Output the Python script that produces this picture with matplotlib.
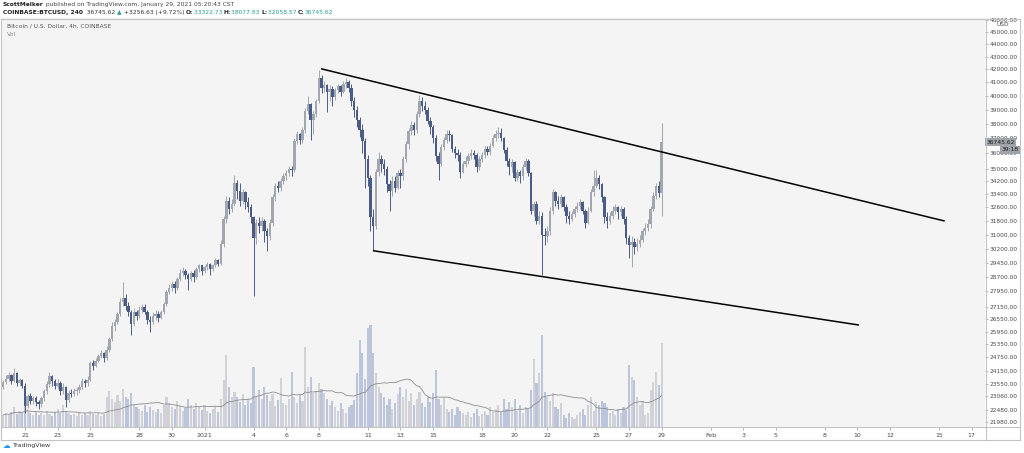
import matplotlib
matplotlib.use('Agg')
import matplotlib.pyplot as plt
from matplotlib.lines import Line2D
from matplotlib.ticker import FixedLocator, FixedFormatter, NullLocator
import numpy as np
import pandas as pd

# COINBASE:BTCUSD 4h candles, first bar opens 2020-12-19 16:00
first_open = 23450
closes = [
    23650, 23800,                                   # Dec 19
    23950, 23700, 24050, 23600, 23750, 23500,       # Dec 20
    22650, 23050, 22850, 22950, 22800, 22700,       # Dec 21
    22950, 23250, 23550, 23900, 23700, 23500,       # Dec 22
    23600, 23250, 23450, 22900, 23200, 23150,       # Dec 23
    23250, 23300, 23450, 23700, 23600, 23750,       # Dec 24
    24500, 24350, 24600, 24800, 24950, 24700,       # Dec 25
    25100, 25600, 26200, 26400, 26800, 27400,       # Dec 26
    27600, 27200, 26900, 26300, 26900, 26700,       # Dec 27
    27000, 27150, 26900, 26500, 26400, 26700,       # Dec 28
    26800, 26600, 26900, 27300, 27900, 28100,       # Dec 29
    28300, 28100, 28600, 28900, 29000, 28800,       # Dec 30
    28600, 28900, 28700, 29100, 29300, 29000,       # Dec 31
    29200, 29400, 29100, 29300, 29600, 29400,       # Jan 1
    30500, 31900, 33000, 32500, 32800, 34100,       # Jan 2
    33600, 33000, 33500, 32900, 32600, 32000,       # Jan 3
    30800, 31700, 31500, 31800, 31200, 30900,       # Jan 4
    31700, 33200, 33900, 33800, 34200, 34500,       # Jan 5
    34700, 35000, 34900, 36800, 37300, 36900,       # Jan 6
    37600, 38900, 39400, 38300, 38700, 39600,       # Jan 7
    41300, 40600, 40800, 40300, 40500, 39900,       # Jan 8
    40400, 40700, 40300, 40900, 41000, 40600,       # Jan 9
    39600, 39000, 38300, 37600, 36800, 35600,       # Jan 10
    34400, 32000, 31500, 34800, 35600, 35300,       # Jan 11
    35000, 34000, 33600, 34200, 33800, 34700,       # Jan 12
    34500, 35600, 36600, 37500, 37900, 37600,       # Jan 13
    38700, 39600, 39300, 39000, 38200, 37800,       # Jan 14
    37000, 35800, 35300, 36400, 36900, 37300,       # Jan 15
    37200, 36300, 36000, 35900, 34800, 35300,       # Jan 16
    35500, 35800, 36000, 35900, 35100, 35600,       # Jan 17
    35900, 36300, 36100, 36500, 37000, 37300,       # Jan 18
    37400, 37000, 36200, 35500, 35100, 35400,       # Jan 19
    34400, 34800, 34500, 35100, 35500, 34700,       # Jan 20
    32400, 32800, 31800, 32100, 31000, 30900,       # Jan 21
    31200, 32400, 33500, 33000, 32800, 33200,       # Jan 22
    32600, 32100, 31900, 32200, 32500, 32700,       # Jan 23
    32900, 32400, 31700, 32400, 33500, 33900,       # Jan 24
    34400, 34000, 33200, 32000, 31800, 32100,       # Jan 25
    32400, 32600, 32300, 32500, 31900, 30800,       # Jan 26
    30400, 30600, 30300, 30500, 30700, 31200,       # Jan 27
    31400, 31600, 32500, 33300, 33900, 33489,       # Jan 28
    36745.62,                                       # Jan 29
]
highs = [
    23750, 23950,
    24100, 24000, 24250, 24100, 23850, 23800,
    23600, 23150, 23200, 23050, 23050, 22900,
    23050, 23350, 23700, 24100, 23950, 23800,
    23800, 23700, 23600, 23500, 23300, 23350,
    23400, 23450, 23550, 23850, 23800, 23900,
    24600, 24650, 24700, 24900, 25100, 25000,
    25250, 25700, 26400, 26550, 26900, 27600,
    28400, 27800, 27400, 27000, 27100, 27000,
    27200, 27300, 27300, 27000, 26700, 26900,
    27000, 26950, 27000, 27400, 28000, 28300,
    28500, 28450, 28700, 29100, 29200, 29100,
    28900, 29000, 29050, 29200, 29400, 29350,
    29350, 29500, 29450, 29400, 29700, 29650,
    30700, 32100, 33300, 33200, 33100, 34600,
    34300, 34100, 33700, 33600, 33200, 32800,
    32100, 31900, 32000, 32000, 31900, 31400,
    31900, 33400, 34100, 34200, 34400, 34700,
    34900, 35200, 35200, 37000, 37500, 37400,
    37800, 39100, 40000, 39500, 38900, 39800,
    41950, 41600, 41100, 40900, 40800, 40700,
    40600, 40900, 40800, 41100, 41300, 41200,
    40900, 39900, 39300, 38500, 38000, 37000,
    35900, 34600, 32500, 35000, 36100, 35900,
    35600, 35200, 34300, 34500, 34500, 34900,
    35000, 35800, 36800, 37700, 38200, 38100,
    38900, 40100, 39900, 39600, 39200, 38500,
    37900, 37200, 36100, 36600, 37100, 37600,
    37600, 37300, 36500, 36300, 36100, 35500,
    35800, 36000, 36300, 36200, 36000, 35800,
    36100, 36500, 36500, 36700, 37200, 37600,
    37800, 37700, 37100, 36400, 35700, 35600,
    35500, 35000, 34900, 35300, 35700, 35600,
    34800, 33000, 33000, 32400, 32300, 31400,
    31500, 32600, 33700, 33600, 33300, 33400,
    33300, 32800, 32400, 32400, 32700, 32900,
    33100, 33000, 32500, 32600, 33700, 34900,
    34900, 34600, 34100, 33300, 32300, 32300,
    32700, 32800, 32700, 32700, 32600, 32100,
    31000, 30900, 30800, 30800, 31000, 31400,
    31700, 31900, 32700, 33500, 34100, 34200,
    38077.83,
]
lows = [
    23350, 23550,
    23700, 23550, 23650, 23500, 23500, 23400,
    22350, 22550, 22700, 22700, 22650, 22500,
    22600, 22850, 23150, 23450, 23500, 23350,
    23350, 23100, 23150, 22600, 22800, 23000,
    23050, 23100, 23200, 23350, 23450, 23500,
    23700, 24200, 24300, 24550, 24700, 24550,
    24650, 25000, 25500, 26000, 26300, 26700,
    27200, 27000, 26700, 25800, 26200, 26500,
    26600, 26850, 26800, 26300, 25950, 26300,
    26500, 26400, 26550, 26800, 27200, 27800,
    27950, 27850, 28000, 28500, 28750, 28600,
    28000, 28500, 28400, 28600, 28950, 28800,
    28900, 29050, 28800, 29000, 29200, 29250,
    29300, 30300, 31700, 32200, 32300, 32700,
    33100, 32700, 32800, 32500, 32300, 31700,
    27700, 30500, 31100, 31200, 30600, 30100,
    30700, 31500, 33000, 33500, 33600, 34000,
    34300, 34500, 34500, 34800, 36600, 36600,
    36700, 37400, 38700, 36900, 37300, 38500,
    39500, 40200, 40300, 38800, 39600, 39300,
    39700, 40200, 40000, 40200, 40600, 40300,
    39300, 38500, 37800, 37100, 36000, 33800,
    33900, 31200, 30150, 31300, 34500, 34800,
    34600, 33500, 32400, 33300, 33500, 33700,
    33800, 34300, 35400, 36300, 37200, 37200,
    37400, 38500, 38900, 38700, 38000, 37300,
    36700, 35500, 34300, 35200, 36200, 36700,
    36800, 36100, 35700, 35500, 34400, 34700,
    35100, 35300, 35600, 35600, 34800, 34900,
    35400, 35700, 35900, 35900, 36400, 36800,
    37000, 36800, 36000, 35200, 34600, 34800,
    34200, 34200, 34100, 34300, 34900, 34500,
    32200, 32100, 31600, 31600, 28800, 30400,
    30600, 31000, 32200, 32700, 32500, 32600,
    32400, 31700, 31600, 31800, 32000, 32300,
    32500, 32200, 31400, 31600, 32300, 33300,
    33800, 33700, 32900, 31700, 31400, 31600,
    31900, 32200, 31900, 32100, 31600, 30500,
    29700, 29200, 29900, 30100, 30300, 30600,
    31000, 31200, 31400, 32400, 33100, 33200,
    32058.57,
]
volumes = [
    1200, 1400,
    1200, 1500, 2000, 1300, 1600, 1400,
    2600, 1800, 1400, 1200, 1500, 1200,
    1400, 1200, 1600, 1300, 1100, 1500,
    1800, 1400, 2200, 1600, 1400, 1200,
    1300, 1100, 1500, 1200, 1400, 1200,
    1600, 1300, 1200, 1400, 1100, 1300,
    3000, 3600, 2800, 2500, 3200, 2600,
    3800, 3000, 2800, 3400, 2200, 2000,
    1800, 1600, 2200, 1500, 2000, 1700,
    1500, 1800, 1400, 2200, 3000, 2400,
    2000, 1800, 2600, 2100, 1600, 1900,
    2800, 2200, 1800, 2400, 2000, 1700,
    2200, 1600, 1400, 1800, 2100, 1500,
    2800, 4700, 7200, 4000, 3000, 3500,
    3000, 2500, 3300, 2200, 2800, 2400,
    6000, 3000, 3700, 2800, 4000, 3200,
    2600, 3300, 2100, 2700, 4900, 2400,
    2200, 2800, 5500, 3000, 2400, 3200,
    2600, 8000, 4000, 5000, 3400, 3600,
    4400, 3800, 3400, 2800, 2200, 2600,
    2000, 1600, 2400, 1800, 1400, 2000,
    2200, 2700, 5400, 8700, 7400, 4800,
    9900, 10200, 7400, 5400, 4000, 3400,
    3000, 2200, 2800, 1800, 2400, 3300,
    4000, 3000, 3800, 2600, 3400, 2200,
    2800, 3500, 2400, 2000, 3000, 2500,
    3400, 5700, 2800, 2200, 3000, 1800,
    1500, 1800, 1200, 2000, 1600, 1400,
    1200, 1500, 1000, 1400, 1800, 1100,
    1300, 1600, 1200, 2000, 1500, 1800,
    2200, 1500, 2800, 1800, 2500, 2000,
    2800, 1600, 2200, 1400, 2000, 1800,
    3700, 6800, 4400, 5400, 9200, 3500,
    3000, 2600, 3400, 2000, 1800, 2400,
    1200, 900, 1400, 1000, 800, 1200,
    1500, 1800, 1200, 2200, 3000, 1600,
    2500, 2200, 2600, 2400, 2000, 1400,
    1600, 1200, 1800, 1400, 2000, 1700,
    6200, 5000, 4700, 3000, 2200, 2600,
    1200, 1400, 3700, 4500, 5500, 4200,
    8400,
]

price_ticks = [46000, 45000, 44000, 43000, 42000, 41000, 40000, 39000, 38000, 37000,
               36000, 35000, 34200, 33400, 32600, 31800, 31000, 30200, 29450, 28700,
               27950, 27150, 26550, 25950, 25350, 24750, 24150, 23550, 23060, 22480, 21980]
date_ticks = ['2020-12-21', '2020-12-23', '2020-12-25', '2020-12-28', '2020-12-30', '2021-01-01',
              '2021-01-04', '2021-01-06', '2021-01-08', '2021-01-11', '2021-01-13', '2021-01-15',
              '2021-01-18', '2021-01-20', '2021-01-22', '2021-01-25', '2021-01-27', '2021-01-29',
              '2021-02-01', '2021-02-03', '2021-02-05', '2021-02-08', '2021-02-10', '2021-02-12',
              '2021-02-15', '2021-02-17']
date_labels = ['21', '23', '25', '28', '30', '2021', '4', '6', '8', '11', '13', '15', '18',
               '20', '22', '25', '27', '29', 'Feb', '3', '5', '8', '10', '12', '15', '17']

# drawn trendlines (time, price)
upper_line_t = ['2021-01-08 04:20', '2021-02-15 07:10']
upper_line_p = [42030, 31800]
lower_line_t = ['2021-01-11 08:40', '2021-02-10 01:00']
lower_line_p = [30100, 26270]

UP = '#a2a6ae'
DOWN = '#4a5c86'
VOL_UP = '#d0d2d7'
VOL_DOWN = '#bcc5dc'
PANE = '#f4f4f4'
TXT = '#4a4a4a'

W, H = 1024, 453
fig = plt.figure(figsize=(W / 100, H / 100), dpi=100, facecolor='white')

def fx(px):
    return px / W

def fy(py):
    return 1 - py / H

ax_rect = [fx(1), fy(427), fx(985) - fx(1), fy(18) - fy(427)]
axv = fig.add_axes(ax_rect)
ax = fig.add_axes(ax_rect)
axv.set_facecolor(PANE)
ax.patch.set_visible(False)

times = pd.date_range('2020-12-19 16:00', periods=len(closes), freq='4h')
c = np.array(closes, dtype=float)
o = np.array([first_open] + closes[:-1], dtype=float)
hi = np.array(highs, dtype=float)
lo = np.array(lows, dtype=float)
vol = np.array(volumes, dtype=float)
up = c >= o

# volume pane
axv.bar(times, vol, width=0.13, color=np.where(up, VOL_UP, VOL_DOWN), linewidth=0)
vol_ma = pd.Series(vol).rolling(20, min_periods=1).mean()
axv.plot(times, vol_ma, color='#8e8e8e', lw=0.6)
axv.set_ylim(0, 40900)

# candles
ax.set_yscale('log')
ax.vlines(times, lo, hi, colors=np.where(up, UP, DOWN), lw=0.7, zorder=2)
ax.bar(times, np.abs(c - o), bottom=np.minimum(o, c), width=0.15,
       color=np.where(up, UP, DOWN), linewidth=0, zorder=3)

ax.plot(pd.to_datetime(upper_line_t), upper_line_p, color='black', lw=1.1, zorder=4)
ax.plot(pd.to_datetime(lower_line_t), lower_line_p, color='black', lw=1.1, zorder=4)

xmin = pd.Timestamp('2020-12-19 12:45')
xmax = pd.Timestamp('2021-02-17 19:30')
for a in (ax, axv):
    a.set_xlim(xmin, xmax)
    for s in a.spines.values():
        s.set_visible(False)
axv.set_xticks([])
axv.set_yticks([])

ax.set_ylim(21780, 46150)
ax.yaxis.set_major_locator(FixedLocator(price_ticks))
ax.yaxis.set_major_formatter(FixedFormatter([f'{v:.2f}' for v in price_ticks]))
ax.yaxis.set_minor_locator(NullLocator())
ax.yaxis.tick_right()
ax.tick_params(axis='y', which='major', length=2, width=0.5, color='#9a9a9a',
               labelsize=4.2, labelcolor=TXT, pad=1.5)

ax.set_xticks(pd.to_datetime(date_ticks))
ax.set_xticklabels(date_labels)
ax.tick_params(axis='x', which='major', length=2, width=0.5, color='#9a9a9a',
               labelsize=4.5, labelcolor=TXT, pad=2)
ax.xaxis.set_minor_locator(NullLocator())

# last price tag and countdown
ytr = ax.get_yaxis_transform()
ax.text(1.0015, closes[-1], f'{closes[-1]:.2f}', transform=ytr, fontsize=4.3, color='#1e1e1e',
        va='center', ha='left', clip_on=False, zorder=6,
        bbox=dict(boxstyle='square,pad=0.25', fc='#9fa3aa', ec='none'))
ax.text(1.017, 36250, '39:18', transform=ytr, fontsize=4.3, color='#1e1e1e',
        va='center', ha='left', clip_on=False, zorder=6,
        bbox=dict(boxstyle='square,pad=0.25', fc='#9fa3aa', ec='none'))
fig.text(fx(1003), fy(25), 'USD', fontsize=4.2, color=TXT, ha='center', va='center')

# frame lines
line_kw = dict(color='#c4c4c4', lw=0.8, transform=fig.transFigure)
fig.add_artist(Line2D([fx(0.5), fx(1020)], [fy(19), fy(19)], **line_kw))
fig.add_artist(Line2D([fx(0.5), fx(1020)], [fy(427), fy(427)], **line_kw))
fig.add_artist(Line2D([fx(0.5), fx(1020)], [fy(440), fy(440)], **line_kw))
fig.add_artist(Line2D([fx(0.8), fx(0.8)], [fy(19), fy(440)], **line_kw))
fig.add_artist(Line2D([fx(985.5), fx(985.5)], [fy(19), fy(440)], **line_kw))
fig.add_artist(Line2D([fx(1020), fx(1020)], [fy(19), fy(440)], **line_kw))

# header lines
renderer = fig.canvas.get_renderer()

def run_text(parts, x_px, y_px, size):
    x = fx(x_px)
    for s, color, weight in parts:
        t = fig.text(x, fy(y_px), s, fontsize=size, color=color, fontweight=weight,
                     ha='left', va='center')
        x += t.get_window_extent(renderer).width / W

TEAL = '#2a9d8f'
run_text([('ScottMelker', '#222222', 'bold'),
          (' published on TradingView.com, January 29, 2021 05:20:43 CST', '#444444', 'normal')],
         3, 4.5, 4.3)
run_text([('COINBASE:BTCUSD, 240', '#222222', 'bold'),
          ('  36745.62 ', '#333333', 'normal'), ('\u25b2', TEAL, 'normal'),
          (' +3256.63 (+9.72%) ', '#333333', 'normal'),
          ('O:', '#222222', 'bold'), ('33322.73 ', TEAL, 'normal'),
          ('H:', '#222222', 'bold'), ('38077.83 ', TEAL, 'normal'),
          ('L:', '#222222', 'bold'), ('32058.57 ', TEAL, 'normal'),
          ('C:', '#222222', 'bold'), ('36745.62', TEAL, 'normal')],
         3, 12.5, 4.3)
fig.text(fx(7), fy(26), 'Bitcoin / U.S. Dollar, 4h, COINBASE', fontsize=4.3, color='#555555',
         ha='left', va='center')
fig.text(fx(7), fy(34), 'Vol', fontsize=4.3, color='#888888', ha='left', va='center')

# TradingView mark
fig.text(fx(3), fy(445.5), '\u2601', fontsize=5.5, color='#2196f3', ha='left', va='center')
fig.text(fx(13), fy(445.5), 'TradingView', fontsize=4.5, color='#333333', ha='left', va='center')

fig.savefig('out.png', dpi=100, facecolor='white')
